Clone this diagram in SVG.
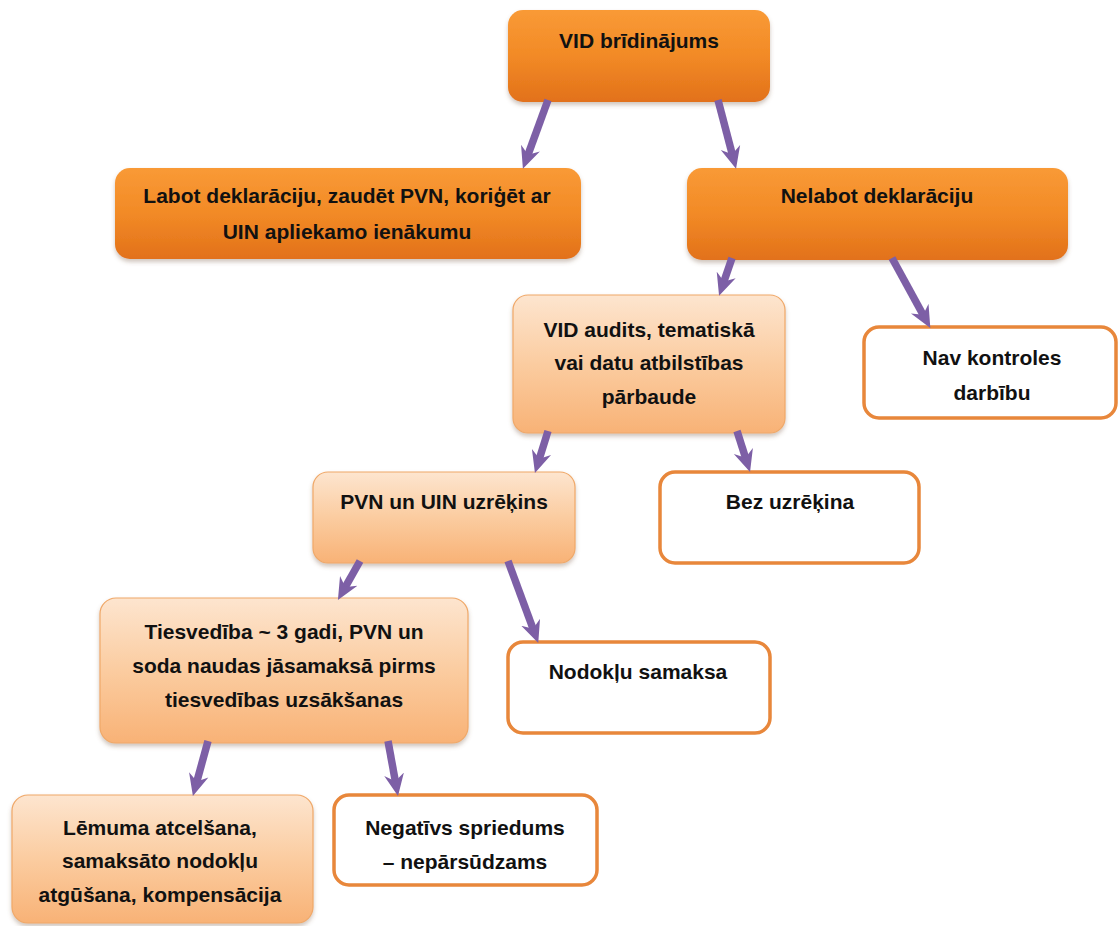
<svg xmlns="http://www.w3.org/2000/svg" width="1119" height="926" viewBox="0 0 1119 926">
  <defs>
    <linearGradient id="gDark" x1="0" y1="0" x2="0" y2="1">
      <stop offset="0" stop-color="#f99a36"/>
      <stop offset="0.5" stop-color="#f28a26"/>
      <stop offset="1" stop-color="#e2711a"/>
    </linearGradient>
    <linearGradient id="gLight" x1="0" y1="0" x2="0" y2="1">
      <stop offset="0" stop-color="#fde5cf"/>
      <stop offset="0.5" stop-color="#fbcca0"/>
      <stop offset="1" stop-color="#f8b276"/>
    </linearGradient>
    <filter id="shadow" x="-5%" y="-5%" width="110%" height="120%">
      <feDropShadow dx="0" dy="3" stdDeviation="2" flood-color="#7a5a40" flood-opacity="0.35"/>
    </filter>
    <marker id="arrow" viewBox="0 0 22 22" refX="8" refY="11" markerWidth="22" markerHeight="22" markerUnits="userSpaceOnUse" orient="auto">
      <path d="M0,1 L22,11 L0,21 L7,11 Z" fill="#7d5fa6"/>
    </marker>
    <style>
      .dark { fill: url(#gDark); filter: url(#shadow); }
      .light { fill: url(#gLight); stroke: #f0a868; stroke-width: 1.2; filter: url(#shadow); }
      .white { fill: #ffffff; stroke: #e8873b; stroke-width: 3.5; }
      .t { font-family: "Liberation Sans", Arial, sans-serif; font-weight: bold; font-size: 21px; fill: #111111; text-anchor: middle; }
      .conn line { stroke: #7d5fa6; stroke-width: 7.5; marker-end: url(#arrow); }
    </style>
  </defs>

  <g id="n-vid-bridinajums">
    <rect class="dark" x="508" y="10" width="262" height="92" rx="15"/>
    <text class="t" x="639" y="48">VID brīdinājums</text>
  </g>

  <g id="n-labot">
    <rect class="dark" x="115" y="168" width="466" height="91" rx="15"/>
    <text class="t" x="347" y="203">Labot deklarāciju, zaudēt PVN, koriģēt ar</text>
    <text class="t" x="347" y="239">UIN apliekamo ienākumu</text>
  </g>

  <g id="n-nelabot">
    <rect class="dark" x="687" y="168" width="381" height="92" rx="15"/>
    <text class="t" x="877" y="203">Nelabot deklarāciju</text>
  </g>

  <g id="n-vid-audits">
    <rect class="light" x="513" y="295" width="272" height="138" rx="15"/>
    <text class="t" x="649" y="337">VID audits, tematiskā</text>
    <text class="t" x="649" y="370">vai datu atbilstības</text>
    <text class="t" x="649" y="404">pārbaude</text>
  </g>

  <g id="n-nav-kontroles">
    <rect class="white" x="864" y="327" width="252" height="91" rx="15"/>
    <text class="t" x="992" y="365">Nav kontroles</text>
    <text class="t" x="992" y="400">darbību</text>
  </g>

  <g id="n-pvn-uin">
    <rect class="light" x="313" y="472" width="262" height="91" rx="15"/>
    <text class="t" x="444" y="509">PVN un UIN uzrēķins</text>
  </g>

  <g id="n-bez-uzrekina">
    <rect class="white" x="660" y="472" width="259" height="91" rx="15"/>
    <text class="t" x="790" y="509">Bez uzrēķina</text>
  </g>

  <g id="n-tiesvediba">
    <rect class="light" x="100" y="598" width="368" height="145" rx="16"/>
    <text class="t" x="284" y="639">Tiesvedība ~ 3 gadi, PVN un</text>
    <text class="t" x="284" y="673">soda naudas jāsamaksā pirms</text>
    <text class="t" x="284" y="707">tiesvedības uzsākšanas</text>
  </g>

  <g id="n-nodoklu-samaksa">
    <rect class="white" x="508" y="642" width="262" height="91" rx="15"/>
    <text class="t" x="638" y="679">Nodokļu samaksa</text>
  </g>

  <g id="n-lemuma-atcelsana">
    <rect class="light" x="12" y="795" width="301" height="128" rx="16"/>
    <text class="t" x="160" y="835">Lēmuma atcelšana,</text>
    <text class="t" x="160" y="868">samaksāto nodokļu</text>
    <text class="t" x="160" y="902">atgūšana, kompensācija</text>
  </g>

  <g id="n-negativs-spriedums">
    <rect class="white" x="334" y="795" width="263" height="90" rx="15"/>
    <text class="t" x="465" y="835">Negatīvs spriedums</text>
    <text class="t" x="465" y="869">– nepārsūdzams</text>
  </g>

  <g id="connectors" class="conn">
    <line x1="548" y1="100" x2="527.7" y2="155.6"/>
    <line x1="718" y1="100" x2="732.5" y2="155.2"/>
    <line x1="732" y1="258" x2="723.6" y2="282.5"/>
    <line x1="892" y1="258" x2="923.6" y2="315.7"/>
    <line x1="548" y1="431" x2="539.1" y2="459.6"/>
    <line x1="737" y1="431" x2="745.8" y2="458.6"/>
    <line x1="360" y1="561" x2="344.8" y2="587.9"/>
    <line x1="508" y1="561" x2="533.4" y2="629.8"/>
    <line x1="208" y1="741" x2="196.6" y2="782.5"/>
    <line x1="388" y1="741" x2="395.5" y2="782.2"/>
  </g>
</svg>
